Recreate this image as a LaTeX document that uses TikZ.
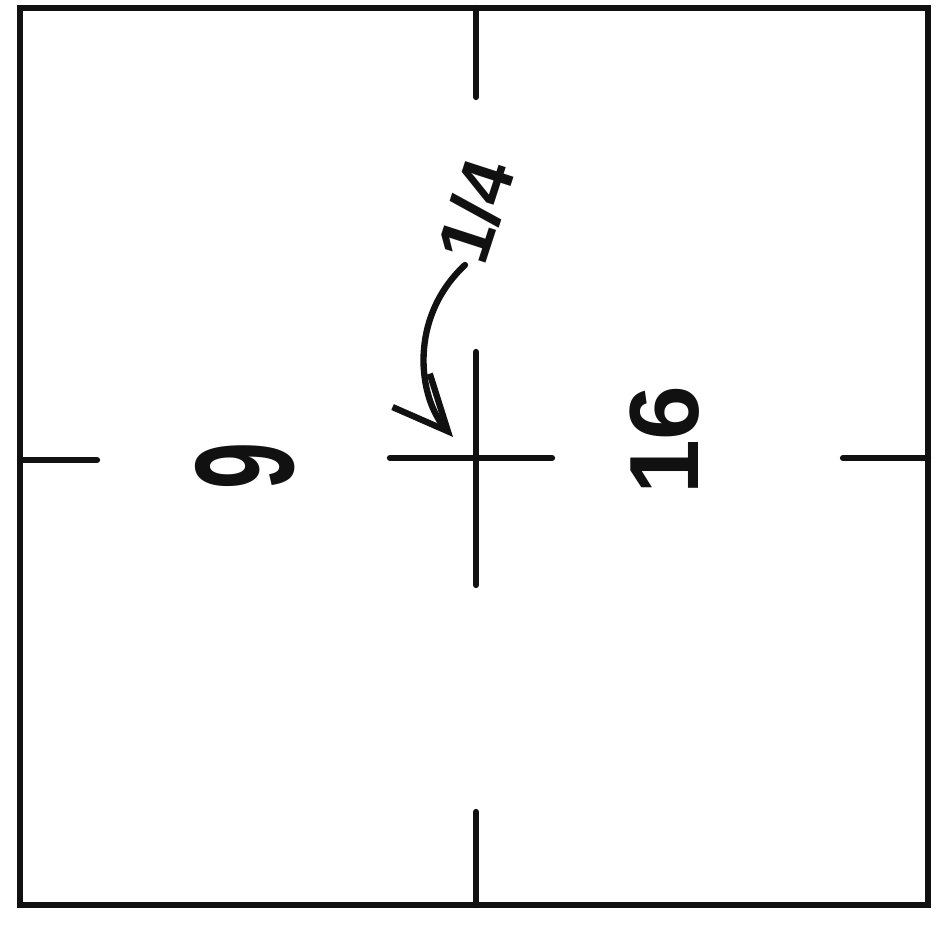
\documentclass[tikz,border=0pt]{standalone}
\usepackage{fontspec}
\setmainfont{Liberation Sans}
\usetikzlibrary{arrows.meta,calc}
\definecolor{InkDark}{HTML}{111111}

\begin{document}
\begin{tikzpicture}[>=Latex,
    ink/.style={draw=InkDark,line width=1.8pt,line cap=round},
    digit/.style={text=InkDark,inner sep=0pt,font=\bfseries}]
        \useasboundingbox (0,0) rectangle (9.42,9.33);
        % outer square
        \draw[ink,line cap=butt] (0.20,0.28) rectangle (9.28,9.25);
        % half marks on the sides
        \foreach \a/\b in {{4.76,9.25}/{4.76,8.36},{4.76,0.28}/{4.76,1.21},
                           {0.20,4.73}/{0.97,4.73},{9.28,4.75}/{8.43,4.75}} {
          \draw[ink] (\a) -- (\b);
        }
        % centre cross
        \coordinate (mid) at (4.76,4.75);
        \draw[ink] ($(mid)+(-0.86,0)$) -- ($(mid)+(0.76,0)$);
        \draw[ink] (4.76,5.81) -- (4.76,3.48);
        \node[digit,rotate=90,font=\bfseries\fontsize{40pt}{40pt}\selectfont] (nine) at (2.45,4.67) {\scalebox{0.6}[1]{9}};
        \node[digit,rotate=90,font=\bfseries\fontsize{28pt}{28pt}\selectfont] (sixteen) at (6.65,4.93) {16};
        \node[digit,rotate=72,font=\bfseries\fontsize{21pt}{21pt}\selectfont] (quarter) at (4.76,7.22) {1/4};
        \coordinate (tail) at (4.65,6.68);
        \coordinate (tip) at (4.53,4.96);
        \draw[ink,-{Straight Barb[length=5.5mm,width=5mm]}] (tail) .. controls (4.08,6.15) and (4.18,5.35) .. (tip);
      \end{tikzpicture}
\end{document}
